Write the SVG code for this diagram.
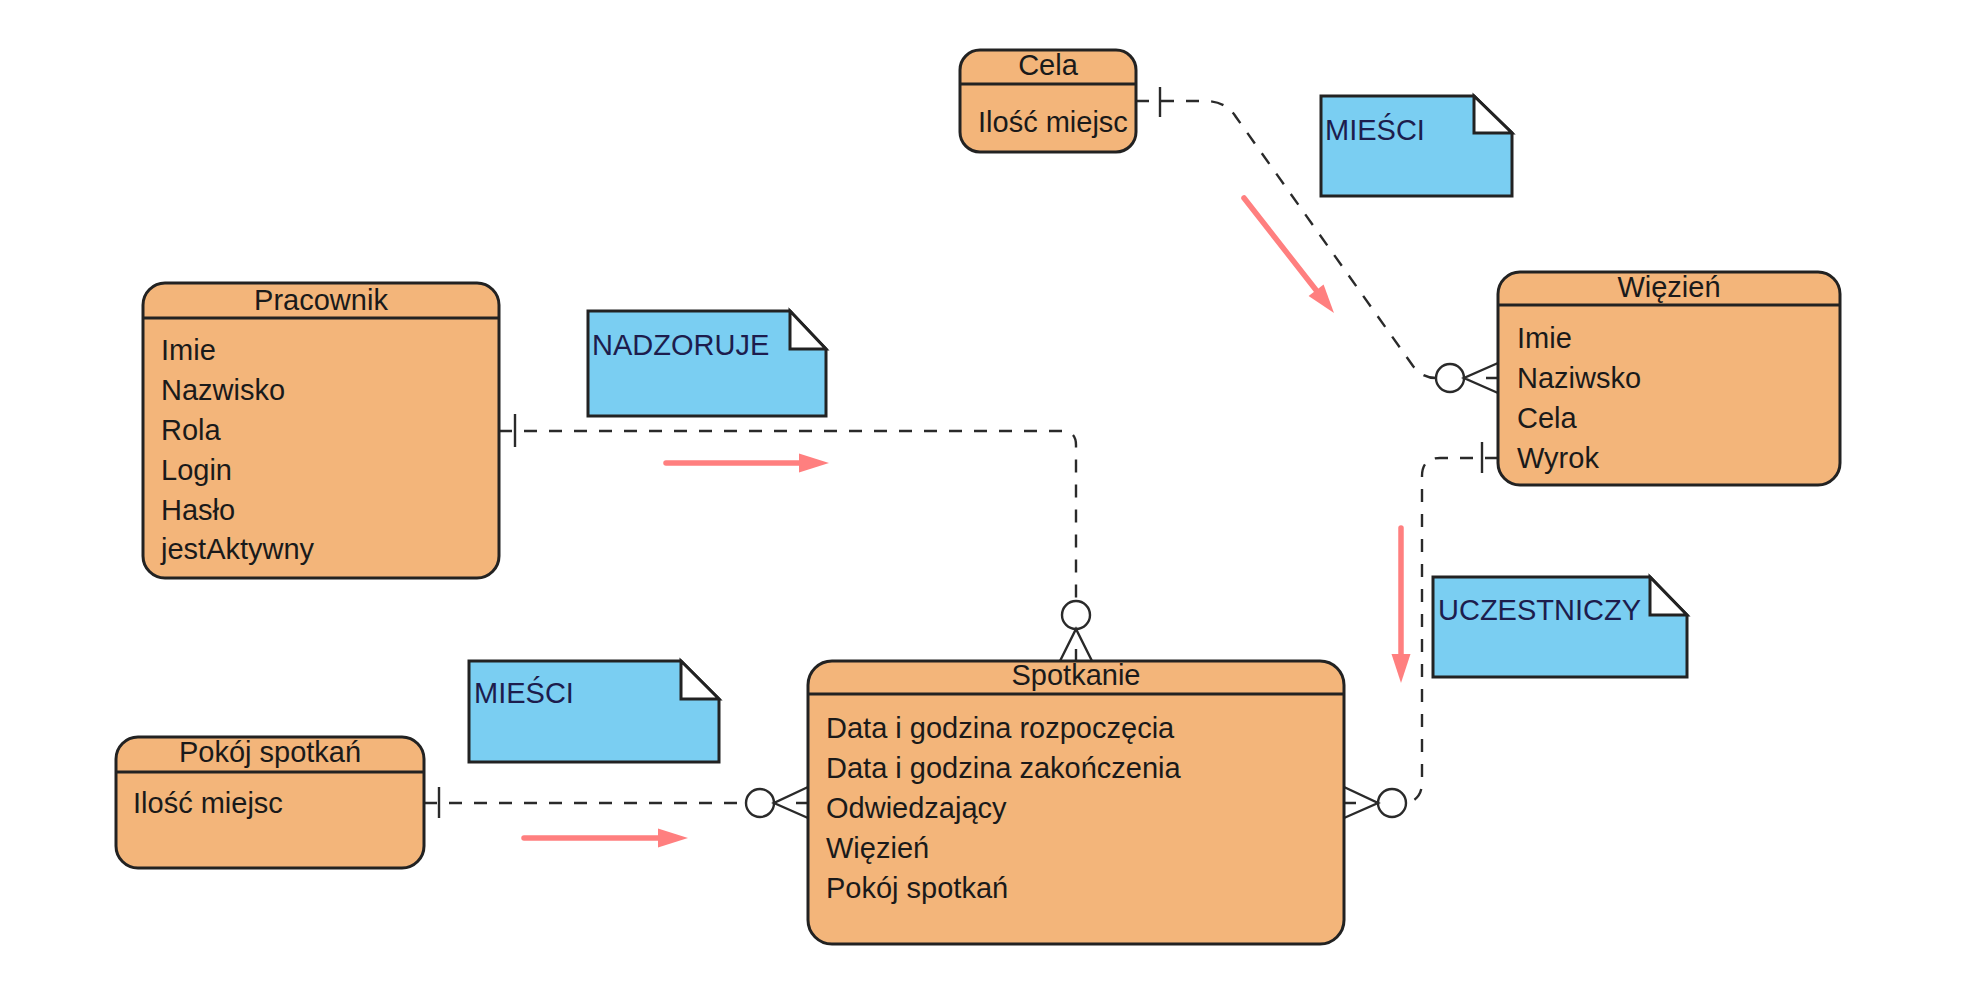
<svg xmlns="http://www.w3.org/2000/svg" width="1979" height="989" viewBox="0 0 1979 989">
  <style>
    .ent { fill: #F3B57A; stroke: #222; stroke-width: 3; }
    .hdr { stroke: #222; stroke-width: 3; }
    .title { font-family: "Liberation Sans", Arial, sans-serif; font-size: 29px; fill: #1a1a1a; text-anchor: middle; }
    .attr { font-family: "Liberation Sans", Arial, sans-serif; font-size: 29px; fill: #1a1a1a; }
    .note { fill: #7ACEF2; stroke: #222; stroke-width: 3; }
    .fold { fill: #ffffff; stroke: #222; stroke-width: 3; stroke-linejoin: miter; }
    .ntext { font-family: "Liberation Sans", Arial, sans-serif; font-size: 29px; fill: #1d1d4d; }
    .rel { fill: none; stroke: #2a2a2a; stroke-width: 2.4; stroke-dasharray: 13 12; }
    .sym { fill: none; stroke: #2a2a2a; stroke-width: 2.4; }
    .circ { fill: #ffffff; stroke: #2a2a2a; stroke-width: 2.4; }
    .flow { fill: none; stroke: #FF7F7F; stroke-width: 5.5; stroke-linecap: round; }
    .flowhead { fill: #FF7F7F; }
  </style>

  <rect width="1979" height="989" fill="#ffffff"/>

  <!-- relationship lines -->
  <g id="connectors">
    <!-- Cela -> Więzień -->
    <path class="rel" d="M1136,101 H1205 Q1226,101 1236,117 L1413,366 Q1422,378 1436,378"/>
    <line class="sym" x1="1160" y1="87" x2="1160" y2="117"/>
    <circle class="circ" cx="1450" cy="378" r="14"/>
    <path class="sym" d="M1498,363 L1464,378 L1498,393 M1486,378 H1498"/>

    <!-- Pracownik -> Spotkanie -->
    <path class="rel" d="M499,431 H1062 Q1076,431 1076,445 V601"/>
    <line class="sym" x1="515" y1="414" x2="515" y2="447"/>
    <circle class="circ" cx="1076" cy="615" r="14"/>
    <path class="sym" d="M1060,661 L1076,629 L1092,661 M1076,649 V661"/>

    <!-- Pokój spotkań -> Spotkanie -->
    <path class="rel" d="M424,803 H746"/>
    <line class="sym" x1="439" y1="787" x2="439" y2="818"/>
    <circle class="circ" cx="760" cy="803" r="14"/>
    <path class="sym" d="M808,787 L774,803 L808,818 M796,803 H808"/>

    <!-- Więzień -> Spotkanie -->
    <path class="rel" d="M1498,458 H1440 Q1422,458 1422,476 V782 Q1422,800 1406,803"/>
    <line class="sym" x1="1482" y1="442" x2="1482" y2="473"/>
    <circle class="circ" cx="1392" cy="803" r="14"/>
    <path class="sym" d="M1344,787 L1378,803 L1344,818 M1344,803 H1356"/>
  </g>

  <!-- direction hints -->
  <g id="flow-arrows">
    <line class="flow" x1="1244" y1="198" x2="1316" y2="290"/>
    <polygon class="flowhead" points="1308.6,296.1 1334,313 1323.6,284.4"/>
    <line class="flow" x1="666" y1="463" x2="802" y2="463"/>
    <polygon class="flowhead" points="799,453.5 829,463 799,472.5"/>
    <line class="flow" x1="524" y1="838" x2="660" y2="838"/>
    <polygon class="flowhead" points="658,828.5 688,838 658,847.5"/>
    <line class="flow" x1="1401" y1="528" x2="1401" y2="656"/>
    <polygon class="flowhead" points="1391.5,654 1401,683 1410.5,654"/>
  </g>

  <!-- entities -->
  <g id="cela">
    <rect class="ent" x="960" y="50" width="176" height="102" rx="20"/>
    <line class="hdr" x1="960" y1="84" x2="1136" y2="84"/>
    <text class="title" x="1048" y="75">Cela</text>
    <text class="attr" x="978" y="132">Ilość miejsc</text>
  </g>

  <g id="wiezien">
    <rect class="ent" x="1498" y="272" width="342" height="213" rx="22"/>
    <line class="hdr" x1="1498" y1="305" x2="1840" y2="305"/>
    <text class="title" x="1669" y="297">Więzień</text>
    <text class="attr" x="1517" y="348">Imie</text>
    <text class="attr" x="1517" y="388">Naziwsko</text>
    <text class="attr" x="1517" y="428">Cela</text>
    <text class="attr" x="1517" y="468">Wyrok</text>
  </g>

  <g id="pracownik">
    <rect class="ent" x="143" y="283" width="356" height="295" rx="22"/>
    <line class="hdr" x1="143" y1="318" x2="499" y2="318"/>
    <text class="title" x="321" y="310">Pracownik</text>
    <text class="attr" x="161" y="360">Imie</text>
    <text class="attr" x="161" y="400">Nazwisko</text>
    <text class="attr" x="161" y="440">Rola</text>
    <text class="attr" x="161" y="480">Login</text>
    <text class="attr" x="161" y="520">Hasło</text>
    <text class="attr" x="161" y="559">jestAktywny</text>
  </g>

  <g id="pokoj-spotkan">
    <rect class="ent" x="116" y="737" width="308" height="131" rx="22"/>
    <line class="hdr" x1="116" y1="772" x2="424" y2="772"/>
    <text class="title" x="270" y="762">Pokój spotkań</text>
    <text class="attr" x="133" y="813">Ilość miejsc</text>
  </g>

  <g id="spotkanie">
    <rect class="ent" x="808" y="661" width="536" height="283" rx="24"/>
    <line class="hdr" x1="808" y1="694" x2="1344" y2="694"/>
    <text class="title" x="1076" y="685">Spotkanie</text>
    <text class="attr" x="826" y="738">Data i godzina rozpoczęcia</text>
    <text class="attr" x="826" y="778">Data i godzina zakończenia</text>
    <text class="attr" x="826" y="818">Odwiedzający</text>
    <text class="attr" x="826" y="858">Więzień</text>
    <text class="attr" x="826" y="898">Pokój spotkań</text>
  </g>

  <!-- notes -->
  <g id="note-miesci-cela">
    <path class="note" d="M1321,96 H1474 L1512,133 V196 H1321 Z"/>
    <path class="fold" d="M1474,96 V133 H1512 Z"/>
    <text class="ntext" x="1325" y="140">MIEŚCI</text>
  </g>

  <g id="note-nadzoruje">
    <path class="note" d="M588,311 H790 L826,349 V416 H588 Z"/>
    <path class="fold" d="M790,311 V349 H826 Z"/>
    <text class="ntext" x="592" y="355">NADZORUJE</text>
  </g>

  <g id="note-miesci-pokoj">
    <path class="note" d="M469,661 H681 L719,699 V762 H469 Z"/>
    <path class="fold" d="M681,661 V699 H719 Z"/>
    <text class="ntext" x="474" y="703">MIEŚCI</text>
  </g>

  <g id="note-uczestniczy">
    <path class="note" d="M1433,577 H1650 L1687,615 V677 H1433 Z"/>
    <path class="fold" d="M1650,577 V615 H1687 Z"/>
    <text class="ntext" x="1438" y="620">UCZESTNICZY</text>
  </g>
</svg>
